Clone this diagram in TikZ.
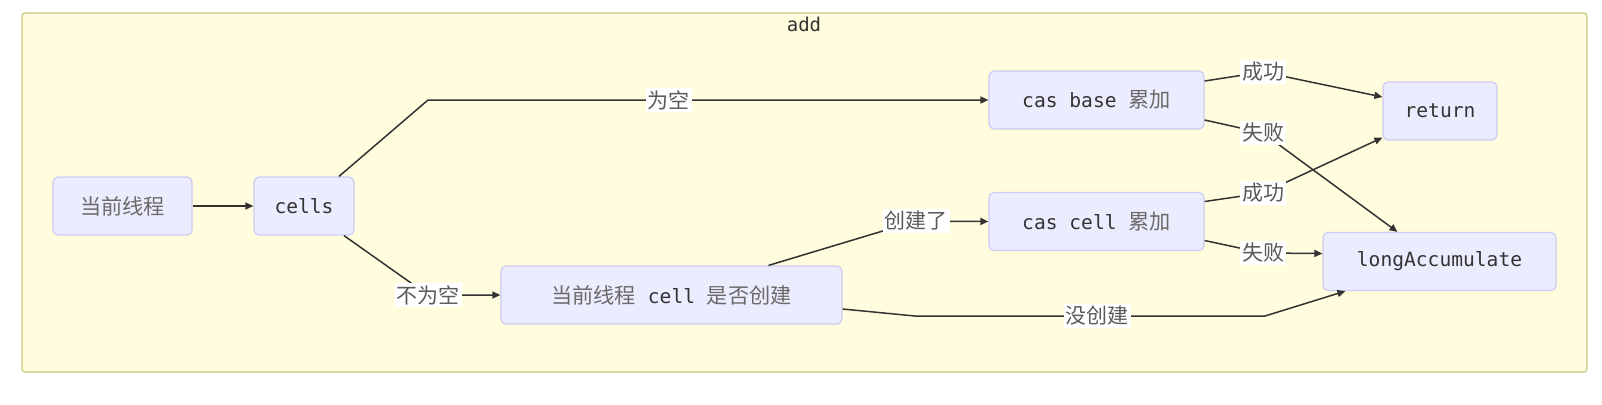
\documentclass[tikz,border=0pt]{standalone}
\usepackage{fontspec}
\setmonofont{DejaVu Sans Mono}
\newfontfamily\cjk{Noto Sans CJK SC}
\usetikzlibrary{positioning,arrows.meta,calc}
\definecolor{clusterfill}{HTML}{FFFDDE}
\definecolor{clusterline}{HTML}{C9C77A}
\definecolor{nodefill}{HTML}{ECECFF}
\definecolor{nodeline}{HTML}{CDCBF2}
\definecolor{linegray}{HTML}{333333}
\definecolor{zhgray}{HTML}{5A5A5A}
\definecolor{zhlight}{HTML}{6A6A6A}
\newcommand{\zh}[1]{{\cjk\fontsize{10.6}{12}\selectfont\color{zhlight}#1}}

\begin{document}
\begin{tikzpicture}[x=0.5pt, y=-0.5pt,
    box/.style={draw=nodeline, fill=nodefill, rounded corners=2.5pt, line width=0.6pt,
        minimum height=29pt, inner sep=0pt, font=\ttfamily\fontsize{9.8}{12}\selectfont, text=linegray},
    lbl/.style={fill=white, inner sep=1pt, font=\cjk\fontsize{10.5}{12}\selectfont, text=zhgray},
    edge/.style={draw=linegray, line width=0.75pt, -{Triangle[length=4pt,width=3.5pt]}}]
    \useasboundingbox (0,0) rectangle (1602,404);

    % Cluster
    \draw[fill=clusterfill, draw=clusterline, line width=0.6pt, rounded corners=1.5pt]
        (22,13) rectangle (1587,372);
    \node[font=\ttfamily\fontsize{9.5}{12}\selectfont, text=linegray] (title) at (804,24) {add};

    % Nodes
    \node[box, minimum width=69.5pt] (thread) at (122.5,206) {\zh{当前线程}};
    \node[box, minimum width=50pt] (cells) at (304,206) {cells};
    \node[box, minimum width=170.5pt] (check) at (671.5,295) {\zh{当前线程} cell \zh{是否创建}};
    \node[box, minimum width=107.5pt] (casbase) at (1096.5,100) {cas base \zh{累加}};
    \node[box, minimum width=107.5pt] (cascell) at (1096.5,221.5) {cas cell \zh{累加}};
    \node[box, minimum width=57pt] (ret) at (1440,111) {return};
    \node[box, minimum width=116.5pt] (longacc) at (1439.5,261.5) {longAccumulate};

    % Edges
    \draw[edge] (thread.east) -- (cells.west);
    \draw[edge] ($(cells.north)+(35,0)$) -- (428,100) -- node[lbl, pos=0.43] {为空} (casbase.west);
    \draw[edge] ($(cells.south)+(40,0)$) -- (428,295) node[lbl] {不为空} -- (check.west);
    \draw[edge] ($(check.north)+(97,0)$) -- (916,221) node[lbl] {创建了} -- (cascell.west);
    \draw[edge] ($(check.east)+(0,14)$) -- (915,316) -- node[lbl, pos=0.52] {没创建} (1265,316)
        -- ($(longacc.south west)+(23,0)$);
    \draw[edge] ($(casbase.east)+(0,-19)$) -- (1263,72) node[lbl] {成功} -- ($(ret.west)+(0,-14)$);
    \draw[edge] ($(casbase.east)+(0,20)$) -- (1263,133) node[lbl] {失败} -- ($(longacc.north)+(-42,0)$);
    \draw[edge] ($(cascell.east)+(0,-20)$) -- (1263,193) node[lbl] {成功} -- ($(ret.south west)+(0,-3)$);
    \draw[edge] ($(cascell.east)+(0,19)$) -- (1263,253) node[lbl] {失败} -- ($(longacc.west)+(0,-8)$);
\end{tikzpicture}
\end{document}
